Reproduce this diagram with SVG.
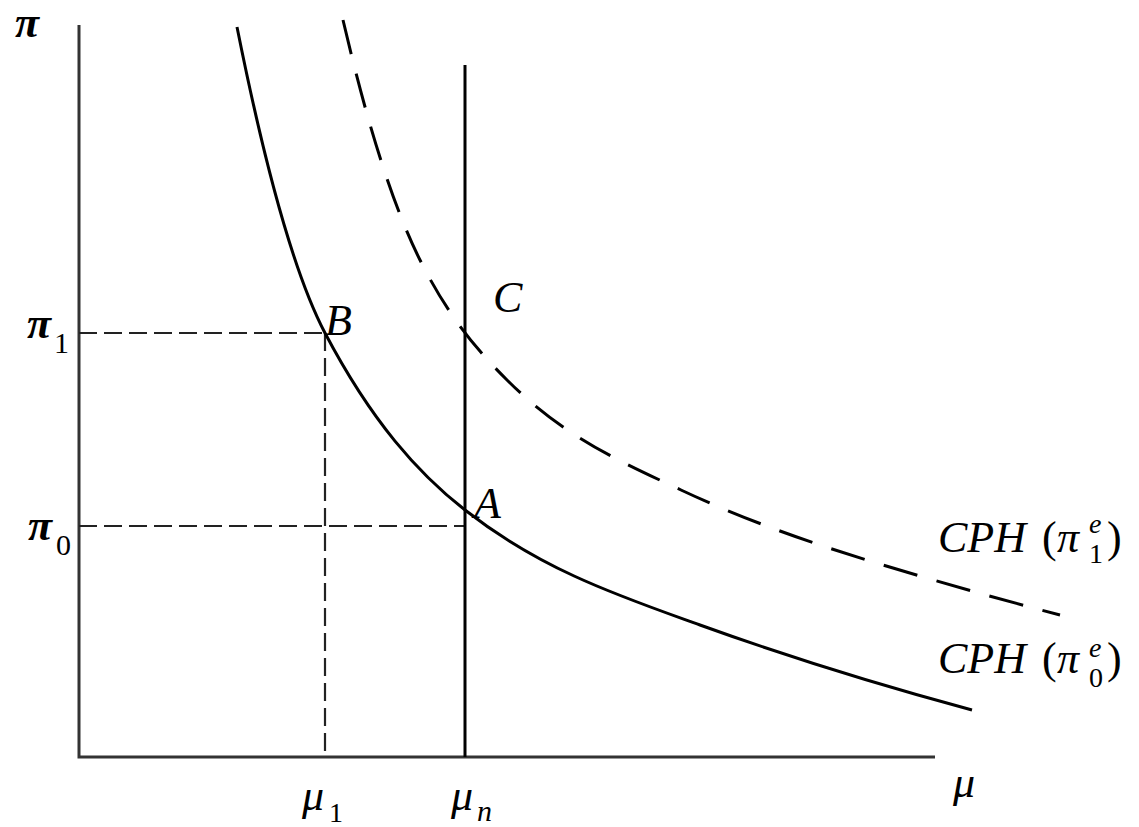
<svg xmlns="http://www.w3.org/2000/svg" width="1139" height="827" viewBox="0 0 1139 827">
<style>
.lbl{font-family:"Liberation Serif","Times New Roman",serif;font-style:italic;font-size:44px;fill:#000}
.up{font-style:normal}
.axis{stroke:#333;stroke-width:3;fill:none}
.guide{stroke:#222;stroke-width:2.2;fill:none;stroke-dasharray:18 7}
.curve{stroke:#000;stroke-width:3;fill:none}
.dcurve{stroke:#000;stroke-width:3;fill:none;stroke-dasharray:35 20}
</style>
<rect width="1139" height="827" fill="#fff"/>
<g id="axes">
<path class="axis" d="M79,25 V757 H935"/>
</g>
<g id="connectors">
<path id="guide-pi1" class="guide" d="M79,333 H325"/>
<path id="guide-pi0" class="guide" d="M79,526 H465"/>
<path id="guide-mu1" class="guide" d="M325,333 V757"/>
<path id="mu-n-line" class="curve" d="M465,65 V757"/>
<path id="cph0" class="curve" d="M237,27 C266.3,173.7 295.7,277.3 325,333 C371.7,421.7 418.3,473.6 465,510 C543.3,571.1 621.7,596.8 700,625 C790.7,657.7 881.3,685.5 972,710"/>
<path id="cph1" class="dcurve" d="M343,20 C368.7,130.4 394.3,208.6 420,260 C449,318 478,351 507,380 C565,438 623,462.7 681,490 C751.7,523.2 822.3,546.8 893,568 C948.7,584.7 1004.3,600.5 1060,615"/>
</g>
<g id="label-pi"><text class="lbl" x="15" y="37" font-size="36" font-weight="bold">π</text></g>
<g id="label-pi1"><text class="lbl" x="27" y="338" font-weight="bold">π<tspan class="up" x="54" y="353" font-size="30" font-weight="normal">1</tspan></text></g>
<g id="label-pi0"><text class="lbl" x="28" y="540" font-weight="bold">π<tspan class="up" x="56" y="555" font-size="30" font-weight="normal">0</tspan></text></g>
<g id="label-mu1"><text class="lbl" x="302" y="810">μ<tspan class="up" x="329" y="822" font-size="28">1</tspan></text></g>
<g id="label-mun"><text class="lbl" x="451" y="810">μ<tspan x="477" y="821" font-size="30">n</tspan></text></g>
<g id="label-mu"><text class="lbl" x="953" y="797">μ</text></g>
<g id="point-B"><text class="lbl" x="325" y="335">B</text></g>
<g id="point-A"><text class="lbl" x="474" y="518">A</text></g>
<g id="point-C"><text class="lbl" x="493" y="312">C</text></g>
<g id="label-cph1"><text class="lbl" x="938" y="552">CPH <tspan class="up" x="1042">(</tspan><tspan x="1057">π</tspan><tspan x="1089" y="533" font-size="28">e</tspan><tspan class="up" x="1089" y="563" font-size="28">1</tspan><tspan class="up" x="1107" y="552">)</tspan></text></g>
<g id="label-cph0"><text class="lbl" x="938" y="673">CPH <tspan class="up" x="1042">(</tspan><tspan x="1057">π</tspan><tspan x="1089" y="657" font-size="28">e</tspan><tspan class="up" x="1089" y="687" font-size="28">0</tspan><tspan class="up" x="1107" y="673">)</tspan></text></g>
</svg>
